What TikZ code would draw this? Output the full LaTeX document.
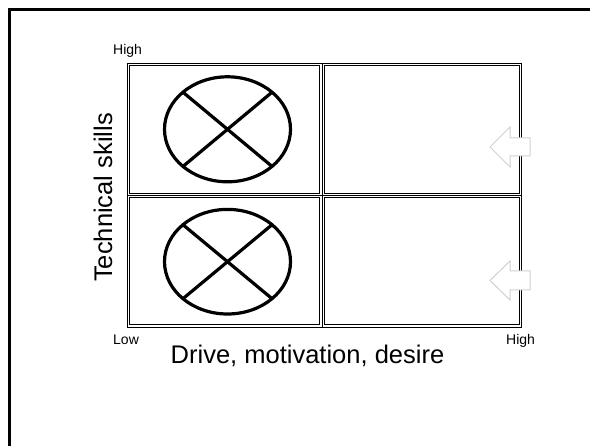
\documentclass[tikz,border=0pt]{standalone}
\usepackage{fontspec}
\setmainfont{Liberation Sans}
\begin{document}
\begin{tikzpicture}[x=1pt,y=-1pt,
  cellbox/.style={draw=black,line width=0.9pt},
  gridline/.style={draw=black,line width=0.9pt},
  quadoval/.style={draw=black,line width=3.2pt},
  crossline/.style={draw=black,line width=3.2pt},
  hintarrow/.style={draw=black!18,fill=white,line width=1pt,line join=miter},
  smalllabel/.style={font=\fontsize{14}{14}\selectfont,inner sep=0pt},
  biglabel/.style={font=\fontsize{25.5}{25.5}\selectfont,inner sep=0pt}]
\useasboundingbox (0,0) rectangle (590,446);
\fill[white] (0,0) rectangle (590,446);
% outer frame
\draw[line width=2.5pt] (9.3,470) -- (9.3,9.5) -- (610,9.5);
% table lines
\draw[gridline] (127.3,63.5) rectangle (521.6,327);
\draw[gridline] (322,63.5) -- (322,327);
\draw[gridline] (127.3,195.5) -- (521.6,195.5);
% cell boxes
\draw[cellbox] (129.6,65.8) rectangle (319.7,193.2);
\draw[cellbox] (324.4,65.8) rectangle (519.3,193.2);
\draw[cellbox] (129.6,197.8) rectangle (319.7,324.7);
\draw[cellbox] (324.4,197.8) rectangle (519.3,324.7);
% crossed ovals
\foreach \cy/\ry in {129.3/52.5, 261.7/52.3}{
  \draw[quadoval] (227.5,\cy) ellipse [x radius=63, y radius=\ry];
  \draw[crossline] ({227.5-0.7071*63},{\cy-0.7071*\ry}) -- ({227.5+0.7071*63},{\cy+0.7071*\ry});
  \draw[crossline] ({227.5+0.7071*63},{\cy-0.7071*\ry}) -- ({227.5-0.7071*63},{\cy+0.7071*\ry});
}
% hint arrows
\draw[hintarrow] (490,147) -- (510,127) -- (510,138) -- (530,138) -- (530,156) -- (510,156) -- (510,167) -- cycle;
\draw[hintarrow] (490,280.5) -- (510,261) -- (510,271) -- (530,271) -- (530,290) -- (510,290) -- (510,300) -- cycle;
% labels
\node[smalllabel,anchor=base west] (hiy) at (113,55) {High};
\node[smalllabel,anchor=base west] (lox) at (113,344.3) {Low};
\node[smalllabel,anchor=base west] (hix) at (506,344.3) {High};
\node[biglabel,anchor=base] (xlab) at (307.5,363.3) {Drive, motivation, desire};
\node[biglabel,anchor=base,rotate=90] (ylab) at (112,197.5) {Technical skills};
\end{tikzpicture}
\end{document}
